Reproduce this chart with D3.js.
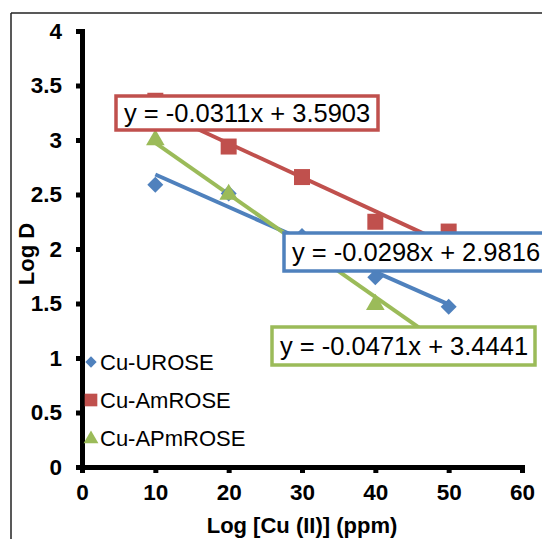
<!DOCTYPE html>
<html>
<head>
<meta charset="utf-8">
<script src="https://cdn.jsdelivr.net/npm/d3@7"></script>
<style>
  body { margin: 0; background: #fff; }
  svg { display: block; font-family: "Liberation Sans", Arial, sans-serif; }
</style>
</head>
<body>
<svg id="main_chart" width="542" height="539"></svg>
<script>
// data
const xValues = [10, 20, 30, 40, 50];
const seriesNames = ["Cu-UROSE", "Cu-AmROSE", "Cu-APmROSE"];
const uroseValues = [2.59, 2.51, 2.12, 1.74, 1.47];
const amroseValues = [3.36, 2.94, 2.66, 2.25, 2.16];
const apmroseValues = [3.0, 2.5, 2.0, 1.49, 1.15];
const trendSlopes = [-0.0298, -0.0311, -0.0471];
const trendIntercepts = [2.9816, 3.5903, 3.4441];
const trendLabels = ["y = -0.0298x + 2.9816", "y = -0.0311x + 3.5903", "y = -0.0471x + 3.4441"];
const xTicks = [0, 10, 20, 30, 40, 50, 60];
const yTicks = [0, 0.5, 1, 1.5, 2, 2.5, 3, 3.5, 4];

const colors = ["#4F81BD", "#C0504D", "#9BBB59"];
const allValues = [uroseValues, amroseValues, apmroseValues];

let svg = d3.select("#main_chart");

// outer frame (only top and left edges show inside the picture)
svg.append("line").attr("x1", 11).attr("y1", 13).attr("x2", 542).attr("y2", 13)
    .attr("stroke", "#222").attr("stroke-width", 1.5);
svg.append("line").attr("x1", 11).attr("y1", 13).attr("x2", 11).attr("y2", 539)
    .attr("stroke", "#222").attr("stroke-width", 1.5);

let xScale = d3.scaleLinear()
    .domain([0, 60])
    .range([82, 522]);

let yScale = d3.scaleLinear()
    .domain([0, 4])
    .range([467, 31]);

// marker shapes
function markerPath(i, big) {
    if (i === 0) return d3.symbol().type(d3.symbolSquare).size(big ? 128 : 64)();
    if (i === 1) return d3.symbol().type(d3.symbolSquare).size(big ? 256 : 160)();
    return d3.symbol().type(d3.symbolTriangle).size(big ? 150 : 95)();
}
function markerRotate(i) { return i === 0 ? " rotate(45)" : ""; }

// trendlines
let trendG = svg.append("g");
trendG.selectAll("line")
    .data(trendSlopes)
    .enter().append("line")
    .attr("x1", xScale(d3.min(xValues)))
    .attr("x2", xScale(d3.max(xValues)))
    .attr("y1", (d, i) => yScale(d * d3.min(xValues) + trendIntercepts[i]))
    .attr("y2", (d, i) => yScale(d * d3.max(xValues) + trendIntercepts[i]))
    .attr("stroke", (d, i) => colors[i])
    .attr("stroke-width", 4);

// markers
allValues.forEach(function(vals, si) {
    svg.append("g").selectAll("path")
        .data(vals)
        .enter().append("path")
        .attr("d", markerPath(si, true))
        .attr("fill", colors[si])
        .attr("transform", (d, i) => "translate(" + xScale(xValues[i]) + "," + yScale(d) + ")" + markerRotate(si));
});

// axes
let yAxis = svg.append("g")
    .attr("transform", "translate(82,0)")
    .call(d3.axisLeft(yScale)
        .tickValues(yTicks)
        .tickSize(6)
        .tickSizeOuter(0)
        .tickPadding(14)
        .tickFormat(d3.format("~g")));

let xAxis = svg.append("g")
    .attr("transform", "translate(0,467)")
    .call(d3.axisBottom(xScale)
        .tickValues(xTicks)
        .tickSize(6)
        .tickSizeOuter(0)
        .tickPadding(11)
        .tickFormat(d3.format("~g")));

[xAxis, yAxis].forEach(function(ax) {
    ax.select(".domain").attr("stroke", "#000").attr("stroke-width", 5).attr("stroke-linecap", "square");
    ax.selectAll(".tick line").attr("stroke", "#000").attr("stroke-width", 5);
    ax.selectAll(".tick text")
        .attr("fill", "#000")
        .style("font-size", "22.5px")
        .style("font-weight", "bold")
        .style("font-family", "'Liberation Sans', Arial, sans-serif");
});

// axis titles
svg.append("text")
    .attr("x", 302).attr("y", 533)
    .attr("text-anchor", "middle")
    .style("font-size", "22px").style("font-weight", "bold")
    .text("Log [Cu (II)] (ppm)");

svg.append("text")
    .attr("transform", "translate(34,254) rotate(-90)")
    .attr("text-anchor", "middle")
    .style("font-size", "22px").style("font-weight", "bold")
    .text("Log D");

// legend
let legend = svg.append("g");
seriesNames.forEach(function(name, i) {
    let ly = 362 + i * 38;
    legend.append("path")
        .attr("d", markerPath(i, false))
        .attr("fill", colors[i])
        .attr("transform", "translate(91," + (i === 2 ? ly + 1 : ly) + ")" + markerRotate(i));
    legend.append("text")
        .attr("x", 100).attr("y", ly + 8)
        .style("font-size", "22px")
        .text(name);
});

// equation labels
const labelBoxes = [
    { x: 284, y: 233, w: 264, h: 38 },
    { x: 116, y: 96, w: 262, h: 34 },
    { x: 272, y: 327, w: 263, h: 38 }
];
trendLabels.forEach(function(t, i) {
    let b = labelBoxes[i];
    svg.append("rect")
        .attr("x", b.x).attr("y", b.y).attr("width", b.w).attr("height", b.h)
        .attr("fill", "#fff")
        .attr("stroke", colors[i])
        .attr("stroke-width", 3.5);
    svg.append("text")
        .attr("x", b.x + 8).attr("y", b.y + b.h / 2 + 9)
        .style("font-size", "25.5px")
        .attr("fill", "#000")
        .text(t);
});
</script>
</body>
</html>
